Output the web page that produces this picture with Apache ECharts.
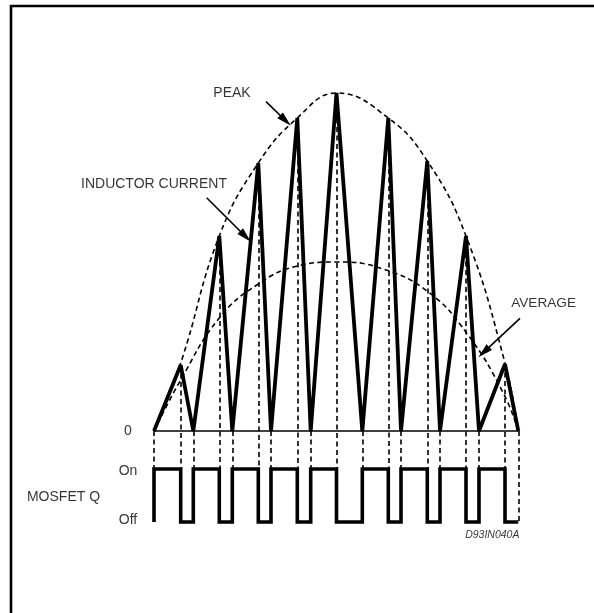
<!DOCTYPE html>
<html>
<head>
<meta charset="utf-8">
<script src="https://cdn.jsdelivr.net/npm/echarts@6/dist/echarts.min.js"></script>
<style>
html,body{margin:0;padding:0;background:#fff;}
#c{width:594px;height:613px;}
</style>
</head>
<body>
<div id="c"></div>
<script>
// ---- data (time units along x, current units along y) ----
const vertexX   = [0, 26.7, 39.3, 65.3, 78.3, 104.3, 117, 143.3, 156.7, 182.5, 208.3, 234.3, 247, 273.3, 286, 312, 325, 351, 364.3];
const currentY  = [0, 66, 0, 195, 0, 268, 0, 313, 0, 338, 0, 313, 0, 270, 0, 195, 0, 67, 0];
const gateStates = ['On','Off','On','Off','On','Off','On','Off','On','Off','On','Off','On','Off','On','Off','On','Off'];
const gateLevels = { On: -38, Off: -91 };
const tickValues = [0, -38, -91];
const tickLabels = ['0', 'On', 'Off'];
const peakEnvX = [0, 26.7, 65.3, 104.3, 143.3, 182.5, 234.3, 273.3, 312, 351, 364.3];
const peakEnvY = [0, 68, 195, 268, 313, 338, 313, 270, 195, 68, 0];
const avgEnvX  = [0, 26.7, 65.3, 104.3, 143.3, 182.5, 226, 274.3, 313.3, 349.3, 364.3];
const avgEnvY  = [0, 51, 113, 147, 165, 169, 163, 139, 97, 38, 0];
const annotationTexts = ['PEAK', 'INDUCTOR CURRENT', 'AVERAGE', 'MOSFET Q', 'D93IN040A'];

// ---- build series data from the arrays ----
const currentData = vertexX.map((x, i) => [x, currentY[i]]);
const gateData = [[vertexX[0], gateLevels.Off]];
gateStates.forEach((s, i) => {
  gateData.push([vertexX[i], gateLevels[s]]);
  gateData.push([vertexX[i + 1], gateLevels[s]]);
});
gateData.push([vertexX[vertexX.length - 1], gateLevels.Off]);
const lastIdx = vertexX.length - 1;
const dropLines = vertexX.map((x, i) => [
  { coord: [x, currentY[i]] },
  { coord: [x, i === lastIdx ? gateLevels.Off : gateLevels.On] }
]);
const peakData = peakEnvX.map((x, i) => [x, peakEnvY[i]]);
const avgData = avgEnvX.map((x, i) => [x, avgEnvY[i]]);

const FONT = "'Liberation Sans', Arial, Helvetica, sans-serif";
const txt = (value, text, extra) => ({
  value: value,
  label: Object.assign({ show: true, position: 'inside', formatter: text, color: '#000',
    fontFamily: FONT, fontSize: 14 }, extra || {})
});

const tickLabelPos = [[-26, tickValues[0]], [-26, tickValues[1] - 2], [-26, tickValues[2] + 2]];
const labelData = [
  txt([78, 337.7], annotationTexts[0]),
  txt([0, 247], annotationTexts[1]),
  txt([389.6, 128], annotationTexts[2], { fontSize: 13.6 }),
  txt([-90.5, -66], annotationTexts[3]),
  txt([338.3, -103.6], annotationTexts[4], { fontSize: 10.5, fontStyle: 'italic' })
].concat(tickLabels.map((t, i) => txt(tickLabelPos[i], t)));

const arrowStyle = { color: '#000', width: 1.6, type: 'solid' };
const head = { symbol: 'triangle', symbolSize: [8, 15] };
const arrows = [
  [{ coord: [112, 329.3], symbol: 'none' }, Object.assign({ coord: [131.5, 310.5] }, head)],
  [{ coord: [52.7, 233.3], symbol: 'none' }, Object.assign({ coord: [91.5, 194.5] }, head)],
  [{ coord: [366, 112.7], symbol: 'none' }, Object.assign({ coord: [329.8, 78.8] }, head)]
];

const dash = [5, 3.5];
const chart = echarts.init(document.getElementById('c'), null, { renderer: 'canvas' });
chart.setOption({
  animation: false,
  backgroundColor: '#fff',
  grid: { left: 0, right: 0, top: 0, bottom: 0 },
  xAxis: { type: 'value', min: -154, max: 440, show: false },
  yAxis: { type: 'value', min: -182, max: 431, show: false },
  graphic: [{
    type: 'rect', silent: true,
    shape: { x: 11, y: 6, width: 700, height: 700 },
    style: { fill: 'none', stroke: '#000', lineWidth: 2.6 }
  }],
  series: [
    { // zero line
      type: 'line', data: [[0, 0], [364.3, 0]], symbol: 'none', silent: true,
      lineStyle: { color: '#000', width: 1.6 }
    },
    { // peak envelope
      type: 'line', data: peakData, smooth: 0.45, symbol: 'none', silent: true,
      lineStyle: { color: '#000', width: 1.6, type: dash }
    },
    { // average envelope
      type: 'line', data: avgData, smooth: 0.45, symbol: 'none', silent: true,
      lineStyle: { color: '#000', width: 1.6, type: dash }
    },
    { // inductor current
      type: 'line', data: currentData, symbol: 'none', silent: true,
      lineStyle: { color: '#000', width: 3.8 },
      markLine: {
        silent: true, symbol: 'none', animation: false,
        label: { show: false },
        lineStyle: { color: '#000', width: 1.6, type: dash },
        data: dropLines
      }
    },
    { // MOSFET gate
      type: 'line', data: gateData, symbol: 'none', silent: true,
      lineStyle: { color: '#000', width: 3.6, join: 'miter' }
    },
    { // arrows
      type: 'line', data: [], symbol: 'none', silent: true,
      markLine: {
        silent: true, animation: false, label: { show: false },
        lineStyle: arrowStyle, itemStyle: { color: '#000' },
        data: arrows
      }
    },
    { // text labels
      type: 'scatter', data: labelData, symbolSize: 1, clip: false, silent: true,
      itemStyle: { color: 'transparent' }
    }
  ]
});
</script>
</body>
</html>
